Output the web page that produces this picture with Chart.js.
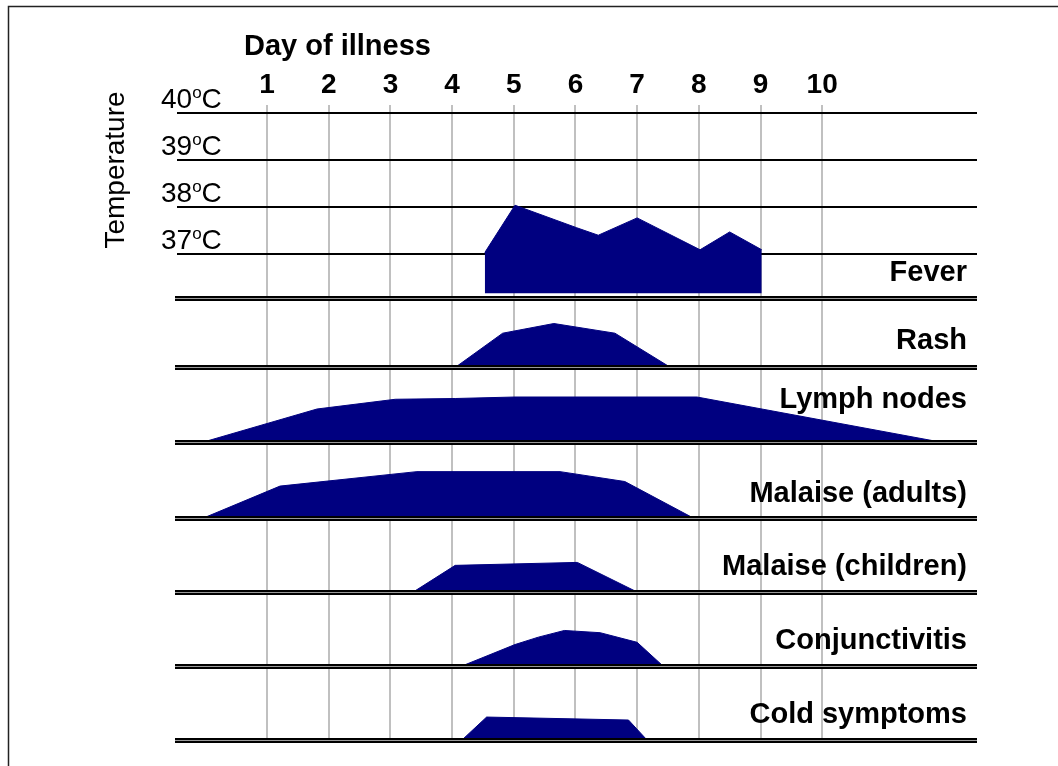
<!DOCTYPE html>
<html>
<head>
<meta charset="utf-8">
<title>Day of illness</title>
<script src="https://cdn.jsdelivr.net/npm/chart.js@4.4.1/dist/chart.umd.min.js"></script>
<style>
body{margin:0;background:#fff}
canvas{display:block}
</style>
</head>
<body>
<canvas id="illnessChart" width="1058" height="766"></canvas>
<script>
const days = [1,2,3,4,5,6,7,8,9,10]
const tempTicks = [37,38,39,40]
const rowNames = ["Fever","Rash","Lymph nodes","Malaise (adults)","Malaise (children)","Conjunctivitis","Cold symptoms"]

/* fever: day, temperature in C */
const feverDays = [4.53,5.02,6.02,6.37,7.0,8.02,8.5,9.02]
const feverTemps = [37.03,38.04,37.56,37.40,37.77,37.09,37.47,37.09]
const feverBase = 36.16

/* other symptoms: day, intensity (0-100 of the row) */
const rashDays = [4.06,4.82,5.65,6.64,7.53]
const rashLevel = [0,49,63,49,0]

const lymphDays = [-0.03,1.81,3.08,4.05,5.02,7.97,11.91]
const lymphLevel = [0,44,57,58,60,60,0]

const malAdultDays = [-0.03,1.21,3.43,5.75,6.80,7.91]
const malAdultLevel = [0,42,61,61,48,0]

const malChildDays = [3.37,4.05,6.03,7.0]
const malChildLevel = [0,36,40,0]

const conjDays = [4.16,5.02,5.40,5.82,6.40,7.0,7.42]
const conjLevel = [0,29,39,48,45,32,0]

const coldDays = [4.16,4.56,6.86,7.16]
const coldLevel = [0,31,27,0]

const FONT = '"Liberation Sans", Arial, sans-serif'
const NAVY = "#000080"

function pts(xs, ys){
  return xs.map((x,i)=>({x:x, y:ys[i]}))
}

const rowAxes = ["yFever","yRash","yLymph","yMalA","yMalC","yConj","yCold"]
const rowWeights = [193,69,75,76,74,74,74]
const labelLift = [17,18,34,16,17,17,17]

function area(data, axis, base){
  return {
    data: data,
    yAxisID: axis,
    backgroundColor: NAVY,
    borderColor: NAVY,
    borderWidth: 1,
    pointRadius: 0,
    tension: 0,
    fill: {value: base}
  }
}

const datasets = [
  area(pts(feverDays, feverTemps), "yFever", feverBase),
  area(pts(rashDays, rashLevel), "yRash", 0),
  area(pts(lymphDays, lymphLevel), "yLymph", 0),
  area(pts(malAdultDays, malAdultLevel), "yMalA", 0),
  area(pts(malChildDays, malChildLevel), "yMalC", 0),
  area(pts(conjDays, conjLevel), "yConj", 0),
  area(pts(coldDays, coldLevel), "yCold", 0)
]

const scales = {
  x: {
    type: "linear",
    position: "top",
    min: -0.46,
    max: 12.51,
    z: 1,
    afterBuildTicks: s => { s.ticks = days.map(v => ({value: v})) },
    afterFit: s => { s.height = 105 },
    grid: {color: "#c0c0c0", lineWidth: 2, drawTicks: false},
    border: {display: false},
    ticks: {
      color: "#000",
      padding: 3,
      font: {family: FONT, size: 28, weight: "bold"},
      callback: v => String(v)
    }
  }
}

rowAxes.forEach((id, i) => {
  const fever = id === "yFever"
  scales[id] = {
    type: "linear",
    position: "right",
    stack: "rows",
    stackWeight: rowWeights[i],
    min: fever ? 36.06 : 0,
    max: fever ? 40.18 : 100,
    afterBuildTicks: s => { if (fever) s.ticks = tempTicks.map(v => ({value: v})) },
    afterFit: s => { s.width = 0 },
    grid: fever ? {color: "#000", lineWidth: 2, drawTicks: false} : {display: false},
    border: {display: false},
    ticks: {display: false}
  }
})

const decorations = {
  id: "decorations",
  beforeDraw(chart){
    const ctx = chart.ctx
    ctx.save()
    ctx.strokeStyle = "#222"
    ctx.lineWidth = 1.5
    ctx.beginPath()
    ctx.moveTo(8.5, chart.height)
    ctx.lineTo(8.5, 6.5)
    ctx.lineTo(chart.width, 6.5)
    ctx.stroke()
    ctx.restore()
  },
  afterDatasetsDraw(chart){
    const ctx = chart.ctx
    const a = chart.chartArea
    ctx.save()
    rowAxes.forEach(id => {
      const y = Math.round(chart.scales[id].bottom) + 0.5
      ctx.beginPath()
      ctx.strokeStyle = "#000"
      ctx.lineWidth = 5
      ctx.moveTo(a.left - 2, y)
      ctx.lineTo(a.right, y)
      ctx.stroke()
      ctx.beginPath()
      ctx.strokeStyle = "#9a9a9a"
      ctx.lineWidth = 1
      ctx.moveTo(a.left - 2, y)
      ctx.lineTo(a.right, y)
      ctx.stroke()
    })
    ctx.restore()
  },
  afterDraw(chart){
    const ctx = chart.ctx
    const a = chart.chartArea
    ctx.save()
    ctx.fillStyle = "#000"

    ctx.font = "bold 29px " + FONT
    ctx.textAlign = "left"
    ctx.textBaseline = "alphabetic"
    ctx.fillText("Day of illness", 244, 55)

    ctx.textAlign = "right"
    rowNames.forEach((name, i) => {
      const y = chart.scales[rowAxes[i]].bottom - labelLift[i]
      ctx.fillText(name, a.right - 10, y)
    })

    const fs = chart.scales.yFever
    ctx.textAlign = "left"
    tempTicks.forEach(t => {
      const y = fs.getPixelForValue(t) - 5
      let x = 161
      ctx.font = "28px " + FONT
      ctx.fillText(String(t), x, y)
      x += ctx.measureText(String(t)).width
      ctx.font = "17px " + FONT
      ctx.fillText("o", x, y - 10)
      x += ctx.measureText("o").width
      ctx.font = "28px " + FONT
      ctx.fillText("C", x, y)
    })

    ctx.translate(124, 170)
    ctx.rotate(-Math.PI / 2)
    ctx.textAlign = "center"
    ctx.font = "28px " + FONT
    ctx.fillText("Temperature", 0, 0)
    ctx.restore()
  }
}

new Chart(document.getElementById("illnessChart"), {
  type: "line",
  data: {datasets: datasets},
  options: {
    responsive: false,
    animation: false,
    devicePixelRatio: 1,
    events: [],
    layout: {padding: {left: 177, right: 81, top: 0, bottom: 26}, autoPadding: false},
    plugins: {legend: {display: false}, tooltip: {enabled: false}},
    scales: scales
  },
  plugins: [decorations]
})
</script>
</body>
</html>
